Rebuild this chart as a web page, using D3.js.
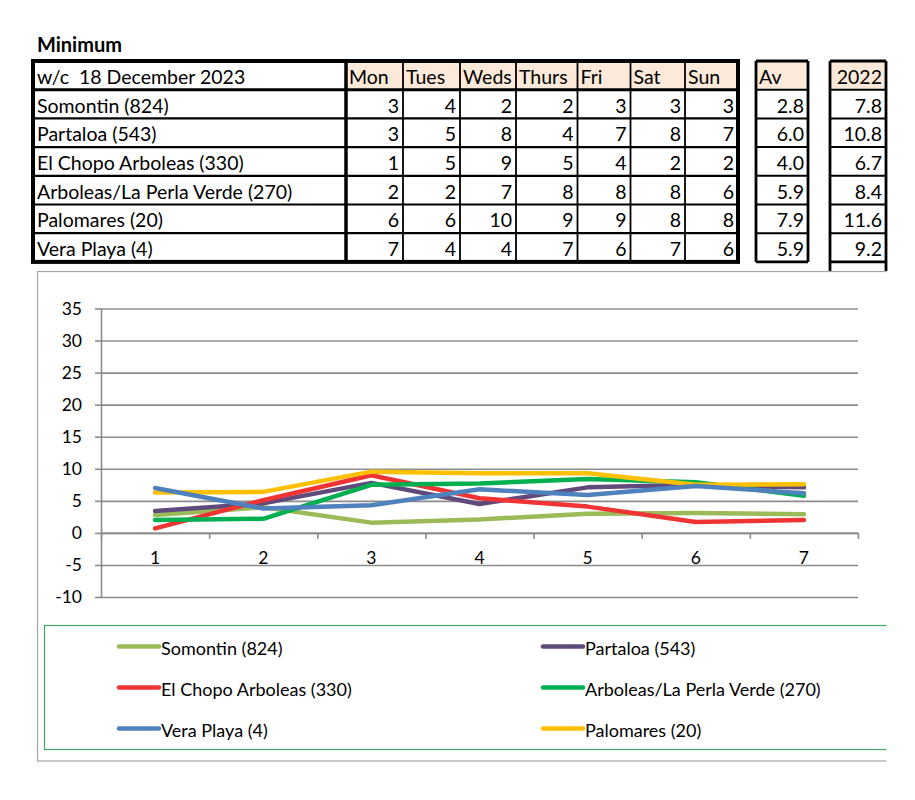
<!DOCTYPE html>
<html>
<head>
<meta charset="utf-8">
<script src="https://cdn.jsdelivr.net/npm/d3@7/dist/d3.min.js"></script>
<style>
  html, body { margin: 0; padding: 0; background: #fff; }
  svg { display: block; font-family: Lato, "Open Sans", sans-serif; }
  text { white-space: pre; }
</style>
</head>
<body>
<svg id="chart" width="915" height="800"></svg>
<script>
// ---------------- DATA ----------------
const title = "Minimum";
const weekLabel = "w/c  18 December 2023";
const days = ["Mon", "Tues", "Weds", "Thurs", "Fri", "Sat", "Sun"];
const stations = ["Somontin (824)", "Partaloa (543)", "El Chopo Arboleas (330)",
                  "Arboleas/La Perla Verde (270)", "Palomares (20)", "Vera Playa (4)"];
const tableSomontin  = [3, 4, 2, 2, 3, 3, 3];
const tablePartaloa  = [3, 5, 8, 4, 7, 8, 7];
const tableElChopo   = [1, 5, 9, 5, 4, 2, 2];
const tableArboleas  = [2, 2, 7, 8, 8, 8, 6];
const tablePalomares = [6, 6, 10, 9, 9, 8, 8];
const tableVera      = [7, 4, 4, 7, 6, 7, 6];
const averages = ["2.8", "6.0", "4.0", "5.9", "7.9", "5.9"];
const prevYearLabel = "2022";
const prevYear = ["7.8", "10.8", "6.7", "8.4", "11.6", "9.2"];

// chart series (values as plotted)
const xCategories = [1, 2, 3, 4, 5, 6, 7];
const yTicks = [-10, -5, 0, 5, 10, 15, 20, 25, 30, 35];
const chartSomontin  = [2.8, 4.0, 1.6, 2.1, 3.0, 3.1, 2.9];
const chartPartaloa  = [3.4, 4.6, 7.8, 4.5, 7.1, 7.5, 7.1];
const chartElChopo   = [0.7, 5.1, 9.0, 5.4, 4.1, 1.7, 2.0];
const chartArboleas  = [2.0, 2.2, 7.5, 7.7, 8.4, 7.9, 5.8];
const chartPalomares = [6.3, 6.4, 9.55, 9.3, 9.3, 7.5, 7.6];
const chartVera      = [7.0, 3.8, 4.3, 6.8, 5.9, 7.3, 6.2];

const tableRows = [tableSomontin, tablePartaloa, tableElChopo, tableArboleas, tablePalomares, tableVera];

const series = [
  { name: "Somontin (824)", values: chartSomontin, color: "#9BBB59" },
  { name: "Partaloa (543)", values: chartPartaloa, color: "#604A7B" },
  { name: "El Chopo Arboleas (330)", values: chartElChopo, color: "#F03333" },
  { name: "Arboleas/La Perla Verde (270)", values: chartArboleas, color: "#00B050" },
  { name: "Palomares (20)", values: chartPalomares, color: "#FFC000" },
  { name: "Vera Playa (4)", values: chartVera, color: "#4F81BD" }
];
const legendOrder = ["Somontin (824)", "Partaloa (543)", "El Chopo Arboleas (330)",
                     "Arboleas/La Perla Verde (270)", "Vera Playa (4)", "Palomares (20)"];

// ---------------- LAYOUT ----------------
const svg = d3.select("#chart");
const peach = "#FDE9D9";
const fs = 19.5;

svg.append("text").attr("x", 37).attr("y", 52)
  .attr("font-size", 20).attr("font-weight", "bold").text(title);

const rowTop = 61, rowH = 28.7, nRows = 7;
const rowY = d3.range(nRows + 1).map(i => rowTop + i * rowH);
const colX = [33, 346, 403, 460, 516, 577.5, 630.5, 685, 738];

const tbl = svg.append("g");
days.forEach((d, i) => {
  tbl.append("rect").attr("x", colX[i + 1]).attr("y", rowY[0])
    .attr("width", colX[i + 2] - colX[i + 1]).attr("height", rowH).attr("fill", peach);
});
function cellText(g, x, y, txt, anchor) {
  g.append("text").attr("x", x).attr("y", y + rowH / 2 + 1)
    .attr("dominant-baseline", "central").attr("text-anchor", anchor)
    .attr("font-size", fs).attr("fill", "#000").text(txt);
}
cellText(tbl, colX[0] + 4, rowY[0], weekLabel, "start");
days.forEach((d, i) => cellText(tbl, colX[i + 1] + 3, rowY[0], d, "start"));
stations.forEach((s, r) => {
  cellText(tbl, colX[0] + 4, rowY[r + 1], s, "start");
  tableRows[r].forEach((v, c) => cellText(tbl, colX[c + 2] - 4, rowY[r + 1], String(v), "end"));
});
for (let i = 1; i < nRows; i++) {
  tbl.append("line").attr("x1", colX[0]).attr("x2", colX[8]).attr("y1", rowY[i]).attr("y2", rowY[i])
    .attr("stroke", "#000").attr("stroke-width", i === 1 ? 3 : 2.2);
}
for (let i = 2; i < 8; i++) {
  tbl.append("line").attr("x1", colX[i]).attr("x2", colX[i]).attr("y1", rowY[0]).attr("y2", rowY[nRows])
    .attr("stroke", "#000").attr("stroke-width", 1.8);
}
tbl.append("line").attr("x1", colX[1]).attr("x2", colX[1]).attr("y1", rowY[0]).attr("y2", rowY[nRows])
  .attr("stroke", "#000").attr("stroke-width", 3.5);
tbl.append("rect").attr("x", colX[0]).attr("y", rowY[0])
  .attr("width", colX[8] - colX[0]).attr("height", rowY[nRows] - rowY[0])
  .attr("fill", "none").attr("stroke", "#000").attr("stroke-width", 4);

function sideBox(x0, x1, header, vals, anchorHeader, extraRow) {
  const g = svg.append("g");
  g.append("rect").attr("x", x0).attr("y", rowY[0]).attr("width", x1 - x0).attr("height", rowH).attr("fill", peach);
  if (anchorHeader === "start") cellText(g, x0 + 3, rowY[0], header, "start");
  else cellText(g, x1 - 4, rowY[0], header, "end");
  vals.forEach((v, r) => cellText(g, x1 - 4, rowY[r + 1], v, "end"));
  const bottom = extraRow ? 271 : rowY[nRows];
  for (let i = 1; i <= nRows; i++) {
    g.append("line").attr("x1", x0).attr("x2", x1).attr("y1", rowY[i]).attr("y2", rowY[i])
      .attr("stroke", "#000").attr("stroke-width", i === nRows ? 2.8 : 2);
  }
  g.append("line").attr("x1", x0).attr("x2", x1).attr("y1", rowY[0]).attr("y2", rowY[0])
    .attr("stroke", "#000").attr("stroke-width", 2.8);
  [x0, x1].forEach(x => g.append("line").attr("x1", x).attr("x2", x).attr("y1", rowY[0]).attr("y2", bottom)
    .attr("stroke", "#000").attr("stroke-width", 2.8));
}
sideBox(756, 808, "Av", averages, "start", false);
sideBox(830, 886, prevYearLabel, prevYear, "end", true);

// ---------------- CHART ----------------
svg.append("clipPath").attr("id", "clipR").append("rect")
  .attr("x", 0).attr("y", 0).attr("width", 886.5).attr("height", 800);
const chart = svg.append("g").attr("clip-path", "url(#clipR)");

chart.append("rect").attr("x", 37.5).attr("y", 271.5).attr("width", 900).attr("height", 489.5)
  .attr("fill", "#fff").attr("stroke", "#A6A6A6").attr("stroke-width", 1.2);

const x = d3.scaleBand().domain(xCategories).range([101, 858]);
const y = d3.scaleLinear().domain([-10, 35]).range([597, 308.5]);
const xb = d3.scaleLinear().domain([0.5, 7.5]).range([101, 858]);
const gridColor = "#8C8C8C";

const grid = chart.append("g").attr("transform", "translate(101,0)")
  .call(d3.axisLeft(y).tickValues(yTicks).tickSize(-757).tickFormat(""));
grid.select(".domain").remove();
grid.selectAll("line").attr("stroke", gridColor).attr("stroke-width", 1.6);

const yAxis = chart.append("g").attr("transform", "translate(101,0)")
  .call(d3.axisLeft(y).tickValues(yTicks).tickSize(6).tickPadding(13).tickSizeOuter(0)
    .tickFormat(d => String(d)));
yAxis.select(".domain").attr("stroke", gridColor).attr("stroke-width", 1.6);
yAxis.selectAll("line").attr("stroke", gridColor).attr("stroke-width", 1.6);
yAxis.selectAll("text").attr("font-size", 17.5).attr("font-family", "Lato, sans-serif").attr("fill", "#000");

const xTicksAxis = chart.append("g").attr("transform", `translate(0,${y(0)})`)
  .call(d3.axisBottom(xb).tickValues(d3.range(0.5, 8, 1)).tickSize(6).tickFormat("").tickSizeOuter(0));
xTicksAxis.select(".domain").attr("stroke", gridColor).attr("stroke-width", 1.6);
xTicksAxis.selectAll("line").attr("stroke", gridColor).attr("stroke-width", 1.6);

const xAxis = chart.append("g").attr("transform", `translate(0,${y(0)})`)
  .call(d3.axisBottom(x).tickSize(0).tickPadding(19));
xAxis.select(".domain").remove();
xAxis.selectAll("text").attr("font-size", 17.5).attr("font-family", "Lato, sans-serif").attr("fill", "#000");

const line = d3.line().x((d, i) => x(xCategories[i]) + x.bandwidth() / 2).y(d => y(d));
chart.append("g").selectAll("path").data(series).join("path")
  .attr("d", d => line(d.values))
  .attr("fill", "none").attr("stroke", d => d.color).attr("stroke-width", 4.5)
  .attr("stroke-linejoin", "round").attr("stroke-linecap", "round");

chart.append("rect").attr("x", 44.5).attr("y", 625.5).attr("width", 900).attr("height", 124)
  .attr("fill", "none").attr("stroke", "#3DAA63").attr("stroke-width", 1.2);
const legendCols = [119, 543];
const legendRows = [646.5, 687.5, 728.5];
legendOrder.forEach((name, i) => {
  const s = series.find(d => d.name === name);
  const lx = legendCols[i % 2], ly = legendRows[Math.floor(i / 2)];
  chart.append("line").attr("x1", lx).attr("x2", lx + 40).attr("y1", ly).attr("y2", ly)
    .attr("stroke", s.color).attr("stroke-width", 4.5).attr("stroke-linecap", "round");
  chart.append("text").attr("x", lx + 42).attr("y", ly + 1).attr("dominant-baseline", "central")
    .attr("font-size", 18).attr("fill", "#000").text(name);
});
</script>
</body>
</html>
